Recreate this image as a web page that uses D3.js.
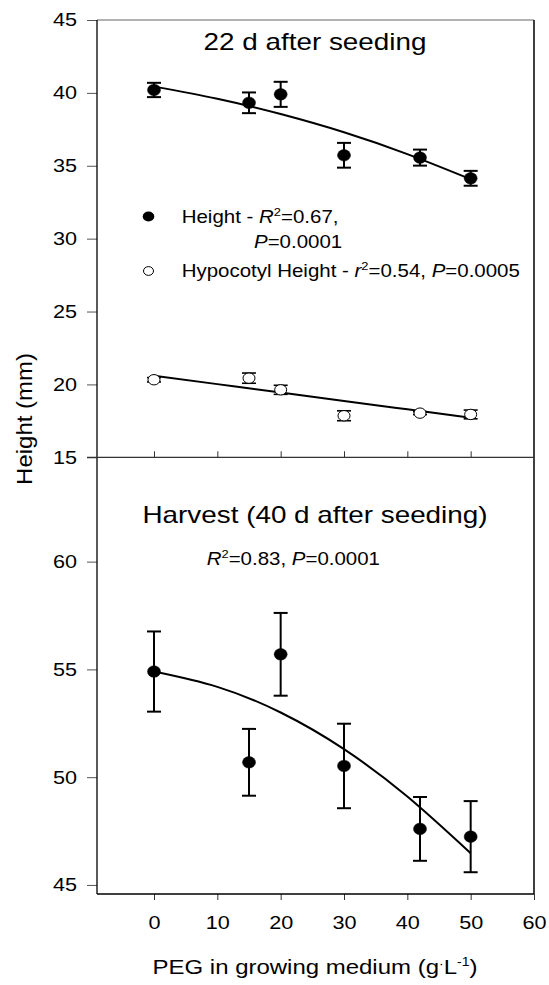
<!DOCTYPE html>
<html>
<head>
<meta charset="utf-8">
<script src="https://cdn.jsdelivr.net/npm/d3@7"></script>
<style>
  html, body { margin: 0; padding: 0; background: #fff; }
  svg { display: block; }
  text { font-family: "Liberation Sans", Arial, sans-serif; fill: #000; }
</style>
</head>
<body>
<svg id="chart" width="549" height="985"></svg>
<script>
// ---------- data ----------
const peg = [0, 15, 20, 30, 42, 50];

const height22    = [40.2, 39.32, 39.9, 35.72, 35.56, 34.14];
const height22Err = [0.49, 0.71, 0.86, 0.85, 0.55, 0.51];

const hypo22    = [20.32, 20.43, 19.63, 17.85, 18.03, 17.94];
const hypo22Err = [0.15, 0.35, 0.31, 0.34, 0.10, 0.30];

const fitX        = [0, 10, 20, 30, 40, 50];
const height22Fit = [40.43, 39.6, 38.55, 37.3, 35.8, 34.08];
const hypo22Fit   = [20.6, 20.02, 19.44, 18.87, 18.29, 17.71];

const harvest    = [54.9, 50.69, 55.7, 50.52, 47.6, 47.24];
const harvestErr = [1.86, 1.55, 1.92, 1.96, 1.48, 1.65];
const harvestFit = [54.9, 54.19, 53.0, 51.3, 49.1, 46.47];

const xTicks       = [0, 10, 20, 30, 40, 50, 60];
const topYTicks    = [15, 20, 25, 30, 35, 40, 45];
const bottomYTicks = [45, 50, 55, 60];

const title1 = "22 d after seeding";
const title2 = "Harvest (40 d after seeding)";

// ---------- layout ----------
const SX = 1.17; // horizontal stretch of text in the reference
const left = 97, right = 534, topY = 20, midY = 457.3, bottomY = 894;

const svg = d3.select("#chart");
svg.append("rect").attr("width", 549).attr("height", 985).attr("fill", "#fff");

const x = d3.scaleLinear().domain([-9, 60]).range([left, right]);
const yTop = d3.scaleLinear().domain([15, 45]).range([midY, topY]);
const yBot = d3.scaleLinear().domain([44.58, 64.84]).range([bottomY, midY]);

// helper for stretched text
function stext(g, px, py, size, anchor) {
  const grp = g.append("g").attr("transform", `translate(${px},${py}) scale(${SX},1)`);
  return grp.append("text").attr("font-size", size).attr("text-anchor", anchor || "start");
}

// ---------- axes ----------
function styleYAxis(g) {
  g.select(".domain").remove();
  g.selectAll(".tick line").attr("stroke", "#555").attr("stroke-width", 1);
  g.selectAll(".tick text")
    .attr("font-size", 18.5)
    .attr("font-family", "Liberation Sans, Arial, sans-serif")
    .attr("x", -20 / SX)
    .attr("transform", `scale(${SX},1)`);
}

const gYTop = svg.append("g").attr("transform", `translate(${left},0)`)
  .call(d3.axisLeft(yTop).tickValues(topYTicks).tickSize(10).tickPadding(10));
styleYAxis(gYTop);

const gYBot = svg.append("g").attr("transform", `translate(${left},0)`)
  .call(d3.axisLeft(yBot).tickValues(bottomYTicks).tickSize(10).tickPadding(10));
styleYAxis(gYBot);

// top panel inner ticks on the dividing line
const gXTop = svg.append("g").attr("transform", `translate(0,${midY})`)
  .call(d3.axisTop(x).tickValues(xTicks.slice(0, 6)).tickSize(6).tickFormat(""));
gXTop.select(".domain").remove();
gXTop.selectAll(".tick line").attr("stroke", "#333").attr("stroke-width", 1);

// bottom x axis
const gXBot = svg.append("g").attr("transform", `translate(0,${bottomY})`)
  .call(d3.axisBottom(x).tickValues(xTicks).tickSize(6).tickPadding(16));
gXBot.select(".domain").remove();
gXBot.selectAll(".tick line").attr("stroke", "#333").attr("stroke-width", 1);
gXBot.selectAll(".tick").each(function() {
  const t = d3.select(this).select("text");
  const txt = t.text();
  const y = +t.attr("y");
  t.remove();
  const gg = d3.select(this).append("g").attr("transform", `translate(0,${y}) scale(${SX},1)`);
  gg.append("text").attr("font-size", 18.5).attr("text-anchor", "middle").attr("dy", "0.71em").text(txt);
});

// ---------- frame ----------
const frame = svg.append("g").attr("fill", "none");
frame.append("line").attr("x1", left).attr("x2", right).attr("y1", topY).attr("y2", topY)
  .attr("stroke", "#666").attr("stroke-width", 1.2);
frame.append("line").attr("x1", left).attr("x2", left).attr("y1", topY).attr("y2", bottomY)
  .attr("stroke", "#000").attr("stroke-width", 1.3);
frame.append("line").attr("x1", right).attr("x2", right).attr("y1", topY).attr("y2", bottomY)
  .attr("stroke", "#000").attr("stroke-width", 1.5);
frame.append("line").attr("x1", left - 10).attr("x2", right).attr("y1", midY).attr("y2", midY)
  .attr("stroke", "#333").attr("stroke-width", 1.2);
frame.append("line").attr("x1", left).attr("x2", right).attr("y1", bottomY).attr("y2", bottomY)
  .attr("stroke", "#000").attr("stroke-width", 1.3);

// ---------- series ----------
function drawFit(yScale, ys, width) {
  const line = d3.line().x((d, i) => x(fitX[i])).y(d => yScale(d)).curve(d3.curveNatural);
  svg.append("path").datum(ys).attr("d", line)
    .attr("fill", "none").attr("stroke", "#000").attr("stroke-width", width);
}
function drawErr(yScale, ys, errs, width, cap) {
  const g = svg.append("g").attr("stroke", "#000").attr("stroke-width", width).attr("fill", "none");
  ys.forEach((v, i) => {
    const cx = x(peg[i]), y1 = yScale(v + errs[i]), y2 = yScale(v - errs[i]);
    g.append("line").attr("x1", cx).attr("x2", cx).attr("y1", y1).attr("y2", y2);
    g.append("line").attr("x1", cx - cap).attr("x2", cx + cap).attr("y1", y1).attr("y2", y1);
    g.append("line").attr("x1", cx - cap).attr("x2", cx + cap).attr("y1", y2).attr("y2", y2);
  });
}
function drawPts(yScale, ys, filled) {
  svg.append("g").selectAll("ellipse").data(ys).join("ellipse")
    .attr("cx", (d, i) => x(peg[i])).attr("cy", d => yScale(d))
    .attr("rx", filled ? 6.5 : 6).attr("ry", filled ? 5.8 : 5.2)
    .attr("fill", filled ? "#000" : "#fff")
    .attr("stroke", "#000").attr("stroke-width", filled ? 0.5 : 1);
}

drawFit(yTop, height22Fit, 2);
drawErr(yTop, height22, height22Err, 2, 7);
drawPts(yTop, height22, true);

drawFit(yTop, hypo22Fit, 2);
drawErr(yTop, hypo22, hypo22Err, 1.6, 7);
drawPts(yTop, hypo22, false);

drawFit(yBot, harvestFit, 2);
drawErr(yBot, harvest, harvestErr, 2, 7);
drawPts(yBot, harvest, true);

// ---------- texts ----------
stext(svg, 315, 50, 23.8, "middle").text(title1);
stext(svg, 315, 523, 23.8, "middle").text(title2);

// legend
svg.append("ellipse").attr("cx", 148.5).attr("cy", 216.5).attr("rx", 5.8).attr("ry", 5).attr("fill", "#000");
svg.append("ellipse").attr("cx", 148.5).attr("cy", 271).attr("rx", 5).attr("ry", 4.4)
  .attr("fill", "#fff").attr("stroke", "#000").attr("stroke-width", 1);

let t = stext(svg, 181.7, 222.7, 17.5);
t.append("tspan").text("Height - ");
t.append("tspan").attr("font-style", "italic").text("R");
t.append("tspan").attr("font-size", 11).attr("dy", -7).text("2");
t.append("tspan").attr("dy", 7).text("=0.67,");

t = stext(svg, 254, 247.5, 17.5);
t.append("tspan").attr("font-style", "italic").text("P");
t.append("tspan").text("=0.0001");

t = stext(svg, 181.7, 277.3, 17.5);
t.append("tspan").text("Hypocotyl Height - ");
t.append("tspan").attr("font-style", "italic").text("r");
t.append("tspan").attr("font-size", 11).attr("dy", -7).text("2");
t.append("tspan").attr("dy", 7).text("=0.54, ");
t.append("tspan").attr("font-style", "italic").text("P");
t.append("tspan").text("=0.0005");

// harvest annotation
t = stext(svg, 206.7, 565, 17.5);
t.append("tspan").attr("font-style", "italic").text("R");
t.append("tspan").attr("font-size", 11).attr("dy", -7).text("2");
t.append("tspan").attr("dy", 7).text("=0.83, ");
t.append("tspan").attr("font-style", "italic").text("P");
t.append("tspan").text("=0.0001");

// x axis title
t = stext(svg, 315, 974, 20.5, "middle");
t.append("tspan").text("PEG in growing medium (g");
t.append("tspan").attr("font-size", 12).attr("dy", -6).text("·");
t.append("tspan").attr("dy", 6).text("L");
t.append("tspan").attr("font-size", 12).attr("dy", -8).text("-1");
t.append("tspan").attr("dy", 8).text(")");

// y axis title
svg.append("g").attr("transform", "translate(31.7,419) rotate(-90) scale(1.09,1)")
  .append("text").attr("font-size", 22).attr("text-anchor", "middle").text("Height (mm)");
</script>
</body>
</html>
